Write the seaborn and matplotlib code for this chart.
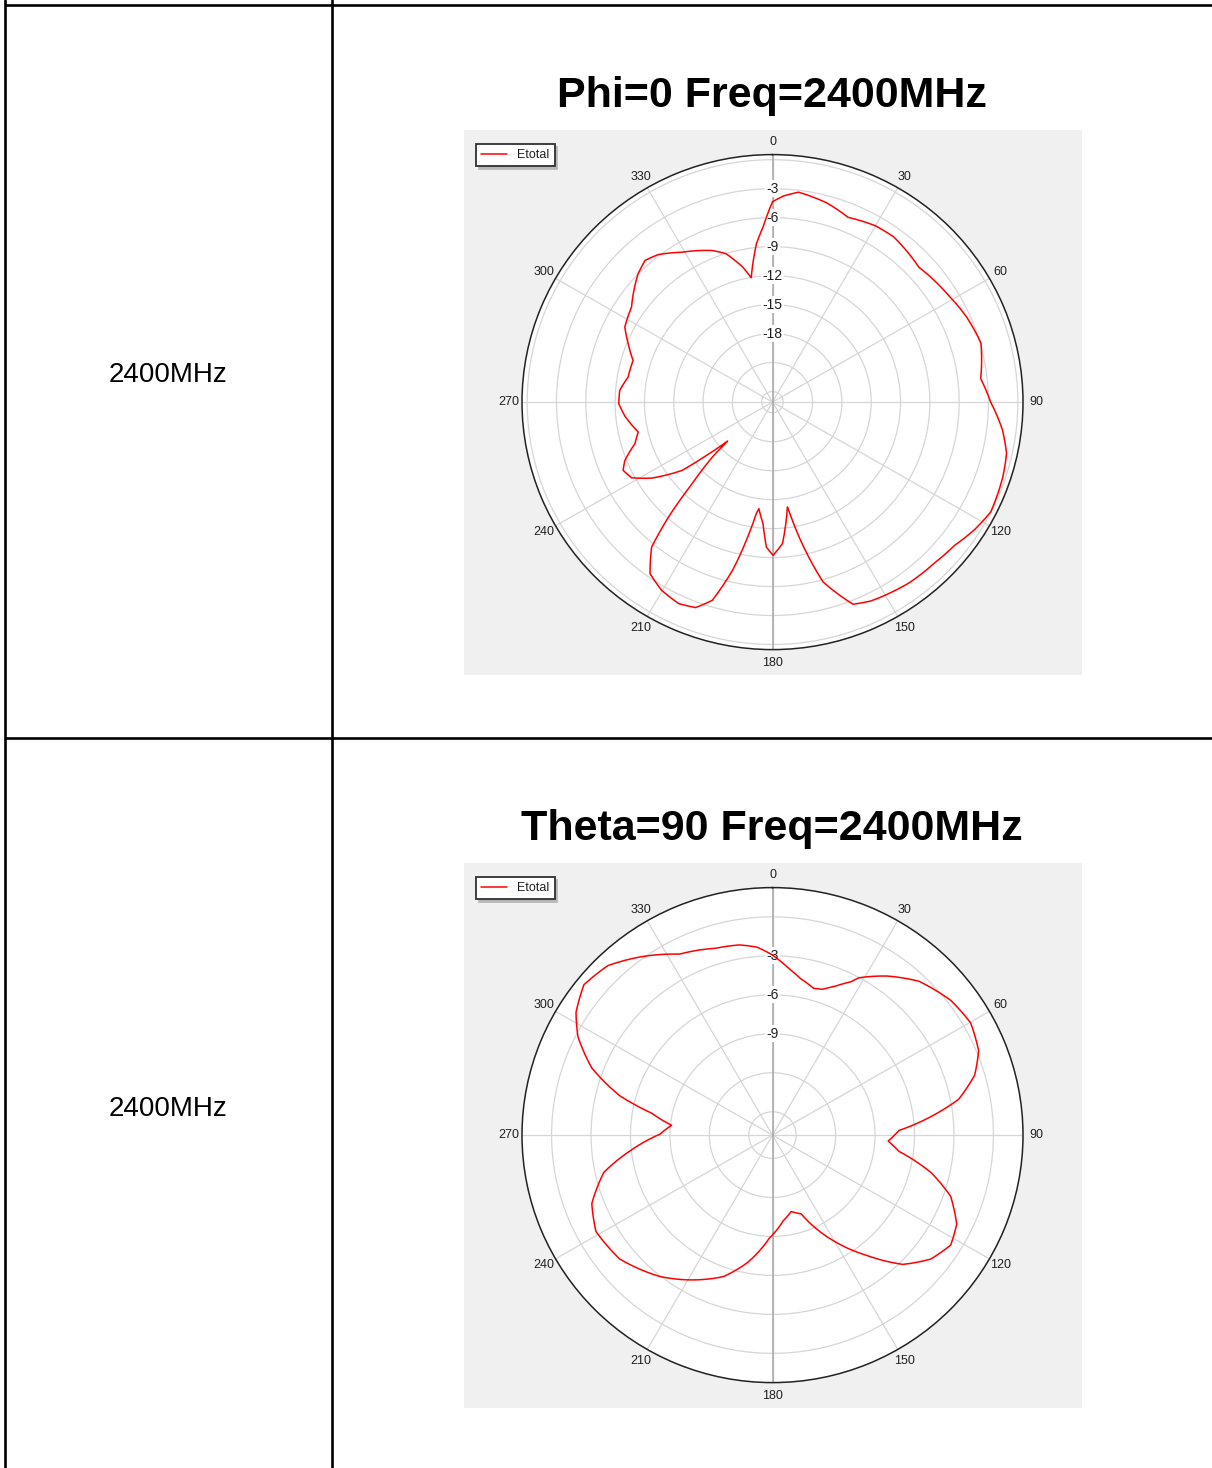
import numpy as np
import matplotlib
matplotlib.use('Agg')
import matplotlib.pyplot as plt
import seaborn as sns

sns.set_style('white')
plt.rcParams['font.family'] = ['Liberation Sans', 'DejaVu Sans']
plt.rcParams['text.color'] = 'black'

# Phi=0 cut, Etotal in dB
phi0_angle = [0, 3, 7, 15, 22, 30, 36, 47, 58, 66, 74, 83.5, 90, 97, 102.5, 108,
              117, 122.5, 128.5, 135, 143, 154, 158.5, 161, 164.5, 168, 171, 172,
              176, 179.8, 182.4, 184.4, 187.2, 188.2, 190.6, 193.2, 196.7, 200.3,
              204.7, 210.2, 215.2, 219.5, 221.8, 224.2, 227.2, 228.7, 230.5, 232.6,
              237.5, 241.5, 245.2, 248.2, 253, 257.3, 264.5, 269.4, 274.4, 280,
              286.8, 292.3, 297.2, 304.3, 314, 318.4, 322.6, 329.2, 338.6, 342.8,
              347.7, 350.4, 354.3, 357, 360]
phi0_gain = [-4.35, -3.73, -3.2, -3.73, -4.46, -4.02, -3.97, -4.62, -4.0, -3.38,
             -2.91, -3.66, -2.78, -1.39, -0.57, -0.30, -0.04, -0.56, -1.28, -1.60,
             -1.73, -2.18, -2.6, -3.93, -5.79, -9.77, -13.17, -14.13, -10.42, -9.23,
             -10.08, -12.47, -13.98, -13.43, -10.53, -7.21, -3.67, -2.41, -2.13,
             -2.55, -3.36, -5.66, -9.14, -13.31, -16.71, -18.98, -16.69, -13.45,
             -10.45, -8.68, -8.26, -8.83, -10.38, -11.02, -9.93, -9.37, -9.42,
             -10.1, -10.2, -9.14, -8.11, -7.64, -5.98, -5.47, -5.87, -7.03, -8.24,
             -9.01, -10.79, -12.04, -8.6, -6.91, -4.35]

# Theta=90 cut
theta90_angle = [0, 4.8, 9.9, 15.5, 18.6, 22.2, 26.8, 28.5, 35.4, 43.2, 52.6, 60.2,
                 67.5, 73.3, 79, 83.3, 87.9, 93, 97.4, 103.4, 109.2, 116.1, 122,
                 128.4, 135.1, 142.2, 149.9, 156.8, 160.2, 166.4, 173, 181.8, 191,
                 198.9, 210.1, 218.2, 230.6, 241.1, 249, 257.4, 264, 270.4, 275.6,
                 280.4, 284.6, 290.6, 297.1, 302.3, 308.9, 316.2, 323.6, 333.1,
                 338.6, 343.2, 350.3, 355.4, 360]
theta90_gain = [-2.94, -3.79, -4.55, -5.08, -4.96, -4.46, -3.58, -3.02, -1.78, -0.55,
                0.27, 0.57, 0.17, -0.75, -2.38, -4.68, -7.18, -7.99, -7.11, -4.42,
                -2.45, -1.2, -0.82, -1.44, -2.75, -5.07, -7.31, -9.33, -10.35, -10.75,
                -10.15, -8.85, -6.8, -5.29, -3.92, -2.95, -1.77, -1.46, -2.08, -3.66,
                -6.04, -8.22, -9.09, -7.46, -4.8, -2.12, -0.18, 0.88, 1.63, 1.28,
                0.23, -1.18, -1.5, -1.78, -1.95, -2.29, -2.94]

row_label = '2400MHz'
titles = ['Phi=0 Freq=2400MHz', 'Theta=90 Freq=2400MHz']
angle_ticks = list(range(0, 360, 30))
top_rings = [0, -3, -6, -9, -12, -15, -18, -21, -24]
top_ring_labels = [-3, -6, -9, -12, -15, -18]
bot_rings = [0, -3, -6, -9, -12, -15]
bot_ring_labels = [-3, -6, -9]

W, H = 1212, 1468
fig = plt.figure(figsize=(W / 100, H / 100), dpi=100)

# table lines
bg = fig.add_axes([0, 0, 1, 1])
bg.set_xlim(0, W)
bg.set_ylim(H, 0)
bg.axis('off')
lw = 1.9
bg.axvline(5, color='black', lw=lw)
bg.axvline(332, color='black', lw=lw)
bg.hlines([5, 738], 5, W, color='black', lw=lw)

fig.text(168 / W, 1 - 382 / H, row_label, ha='center', va='baseline', fontsize=20)
fig.text(168 / W, 1 - 1116 / H, row_label, ha='center', va='baseline', fontsize=20)


def draw_panel(top_px, angles, gains, rmin, rmax, rings, ring_labels, title):
    px_per_db = 247.6 / (rmax - rmin)
    # gray chart background
    panel = fig.add_axes([464 / W, 1 - (top_px + 545) / H, 618 / W, 545 / H])
    panel.set_facecolor('#f0f0f0')
    panel.set_xticks([])
    panel.set_yticks([])
    for s in panel.spines.values():
        s.set_visible(False)

    fig.text(772 / W, 1 - (top_px - 23) / H, title, ha='center', va='baseline',
             fontsize=31, fontweight='bold', color='black')

    cy = top_px + 272
    ax = fig.add_axes([522 / W, 1 - (cy + 247.6) / H, 501 / W, 495 / H],
                      projection='polar')
    ax.set_aspect('auto')
    ax.set_facecolor('white')
    ax.set_theta_zero_location('N')
    ax.set_theta_direction(-1)

    sns.lineplot(x=np.deg2rad(angles), y=gains, sort=False, estimator=None,
                 color='#ff0000', lw=1.1, label='Etotal', ax=ax, zorder=3)
    ax.set_xlabel('')
    ax.set_ylabel('')
    # draw segments along the polar grid instead of straight chords
    ax.lines[0].get_path()._interpolation_steps = 12

    ax.set_ylim(rmin, rmax)
    ax.set_xticks(np.deg2rad(angle_ticks))
    ax.set_xticklabels([])
    ax.set_yticks(rings)
    ax.set_yticklabels([])
    ax.grid(True, color='#d6d6d6', lw=0.9)
    ax.spines['polar'].set_color('#222222')
    ax.spines['polar'].set_linewidth(1.1)
    ax.axvline(0, color='#a8a8a8', lw=1.1, zorder=1.6)
    ax.axvline(np.pi, color='#a8a8a8', lw=1.1, zorder=1.6)

    off = 13 / px_per_db
    for a in angle_ticks:
        ax.text(np.deg2rad(a), rmax + off, str(a), ha='center', va='center',
                fontsize=9, color='#202020', clip_on=False)
    for v in ring_labels:
        ax.text(0, v, str(v), ha='center', va='center', fontsize=10,
                color='#202020', zorder=2,
                bbox=dict(boxstyle='square,pad=0.12', fc='white', ec='none'))

    leg = ax.legend(loc='upper left', bbox_to_anchor=(476 / W, 1 - (top_px + 14) / H),
                    bbox_transform=fig.transFigure, frameon=True, fancybox=False,
                    shadow={'color': '#b8b8b8', 'alpha': 1}, edgecolor='#303030',
                    framealpha=1, borderaxespad=0, fontsize=9, handlelength=2.1,
                    handletextpad=0.8, borderpad=0.4)
    leg.get_frame().set_linewidth(1.3)
    for t in leg.get_texts():
        t.set_color('#202020')


draw_panel(130, phi0_angle, phi0_gain, -25.1, 0.53, top_rings, top_ring_labels,
           titles[0])
draw_panel(863, theta90_angle, theta90_gain, -16.8, 2.25, bot_rings,
           bot_ring_labels, titles[1])

fig.savefig('out.png', dpi=100)
